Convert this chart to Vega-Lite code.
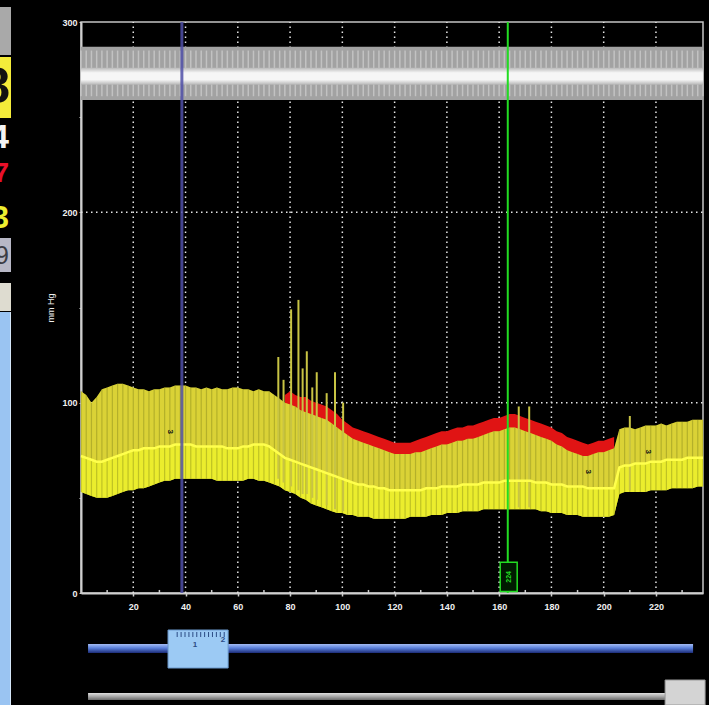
{
  "$schema": "https://vega.github.io/schema/vega-lite/v6.json",
  "background": "#000000",
  "padding": {"left": 0, "top": 7, "right": 0, "bottom": 0},
  "bounds": "flush",
  "spacing": 70,
  "config": {
    "view": {"stroke": null},
    "axis": {"labelFont": "Liberation Sans", "titleFont": "Liberation Sans"},
    "text": {"font": "Liberation Sans"}
  },
  "datasets": {
    "band": [
      {"x":0,"s":106,"m":72,"d":53},{"x":2,"s":104,"m":71,"d":52},{"x":4,"s":100,"m":70,"d":51},{"x":6,"s":103,"m":69,"d":50},
      {"x":8,"s":107,"m":69,"d":50},{"x":10,"s":108,"m":70,"d":50},{"x":12,"s":109,"m":71,"d":51},{"x":14,"s":110,"m":72,"d":52},
      {"x":16,"s":110,"m":73,"d":53},{"x":18,"s":109,"m":74,"d":54},{"x":20,"s":108,"m":75,"d":54},{"x":22,"s":107,"m":75,"d":55},
      {"x":24,"s":107,"m":76,"d":55},{"x":26,"s":106,"m":76,"d":56},{"x":28,"s":107,"m":76,"d":57},{"x":30,"s":107,"m":77,"d":58},
      {"x":32,"s":108,"m":77,"d":59},{"x":34,"s":108,"m":77,"d":59},{"x":36,"s":109,"m":78,"d":60},{"x":38,"s":109,"m":78,"d":60},
      {"x":40,"s":109,"m":78,"d":60},{"x":42,"s":108,"m":78,"d":60},{"x":44,"s":108,"m":77,"d":60},{"x":46,"s":107,"m":77,"d":60},
      {"x":48,"s":108,"m":77,"d":60},{"x":50,"s":107,"m":77,"d":60},{"x":52,"s":108,"m":77,"d":59},{"x":54,"s":107,"m":77,"d":59},
      {"x":56,"s":107,"m":76,"d":59},{"x":58,"s":108,"m":76,"d":59},{"x":60,"s":108,"m":76,"d":59},{"x":62,"s":107,"m":77,"d":59},
      {"x":64,"s":107,"m":77,"d":60},{"x":66,"s":106,"m":78,"d":60},{"x":68,"s":107,"m":78,"d":59},{"x":70,"s":106,"m":78,"d":59},
      {"x":72,"s":106,"m":77,"d":58},{"x":74,"s":104,"m":75,"d":57},{"x":76,"s":102,"m":73,"d":56},{"x":78,"s":100,"m":71,"d":54},
      {"x":80,"s":99,"m":70,"d":53},{"x":82,"s":98,"m":69,"d":52},{"x":84,"s":96,"m":68,"d":50},{"x":86,"s":95,"m":67,"d":49},
      {"x":88,"s":94,"m":66,"d":47},{"x":90,"s":93,"m":65,"d":46},{"x":92,"s":92,"m":64,"d":45},{"x":94,"s":91,"m":63,"d":44},
      {"x":96,"s":89,"m":62,"d":43},{"x":98,"s":87,"m":61,"d":42},{"x":100,"s":85,"m":60,"d":42},{"x":102,"s":83,"m":59,"d":41},
      {"x":104,"s":81,"m":58,"d":41},{"x":106,"s":80,"m":57,"d":40},{"x":108,"s":79,"m":57,"d":40},{"x":110,"s":78,"m":56,"d":40},
      {"x":112,"s":77,"m":56,"d":39},{"x":114,"s":76,"m":55,"d":39},{"x":116,"s":75,"m":55,"d":39},{"x":118,"s":74,"m":54,"d":39},
      {"x":120,"s":73,"m":54,"d":39},{"x":122,"s":73,"m":54,"d":39},{"x":124,"s":73,"m":54,"d":39},{"x":126,"s":73,"m":54,"d":40},
      {"x":128,"s":74,"m":54,"d":40},{"x":130,"s":74,"m":54,"d":40},{"x":132,"s":75,"m":55,"d":40},{"x":134,"s":76,"m":55,"d":41},
      {"x":136,"s":77,"m":55,"d":41},{"x":138,"s":78,"m":56,"d":41},{"x":140,"s":78,"m":56,"d":42},{"x":142,"s":79,"m":56,"d":42},
      {"x":144,"s":80,"m":56,"d":42},{"x":146,"s":80,"m":57,"d":43},{"x":148,"s":81,"m":57,"d":43},{"x":150,"s":81,"m":57,"d":43},
      {"x":152,"s":82,"m":57,"d":43},{"x":154,"s":83,"m":58,"d":44},{"x":156,"s":84,"m":58,"d":44},{"x":158,"s":85,"m":58,"d":44},
      {"x":160,"s":85,"m":58,"d":44},{"x":162,"s":86,"m":59,"d":44},{"x":164,"s":87,"m":59,"d":44},{"x":166,"s":87,"m":59,"d":44},
      {"x":168,"s":86,"m":59,"d":44},{"x":170,"s":85,"m":59,"d":44},{"x":172,"s":84,"m":59,"d":44},{"x":174,"s":83,"m":58,"d":44},
      {"x":176,"s":82,"m":58,"d":43},{"x":178,"s":81,"m":58,"d":43},{"x":180,"s":80,"m":57,"d":42},{"x":182,"s":78,"m":57,"d":42},
      {"x":184,"s":77,"m":57,"d":42},{"x":186,"s":75,"m":56,"d":41},{"x":188,"s":74,"m":56,"d":41},{"x":190,"s":73,"m":56,"d":41},
      {"x":192,"s":72,"m":56,"d":40},{"x":194,"s":72,"m":55,"d":40},{"x":196,"s":73,"m":55,"d":40},{"x":198,"s":74,"m":55,"d":40},
      {"x":200,"s":74,"m":55,"d":40},{"x":202,"s":75,"m":55,"d":40},{"x":204,"s":76,"m":55,"d":41},{"x":206,"s":86,"m":66,"d":52},
      {"x":208,"s":87,"m":67,"d":53},{"x":210,"s":87,"m":67,"d":53},{"x":212,"s":86,"m":68,"d":53},{"x":214,"s":87,"m":68,"d":53},
      {"x":216,"s":88,"m":68,"d":53},{"x":218,"s":88,"m":69,"d":54},{"x":220,"s":88,"m":69,"d":54},{"x":222,"s":89,"m":69,"d":54},
      {"x":224,"s":88,"m":70,"d":54},{"x":226,"s":89,"m":70,"d":55},{"x":228,"s":90,"m":70,"d":55},{"x":230,"s":90,"m":70,"d":55},
      {"x":232,"s":90,"m":71,"d":55},{"x":234,"s":91,"m":71,"d":55},{"x":236,"s":91,"m":71,"d":56},{"x":238,"s":91,"m":71,"d":56}
    ],
    "red": [
      {"x":78,"r":104},{"x":80,"r":106},{"x":82,"r":104},{"x":84,"r":103},{"x":86,"r":103},{"x":88,"r":101},{"x":90,"r":100},
      {"x":92,"r":99},{"x":94,"r":98},{"x":96,"r":96},{"x":98,"r":94},{"x":100,"r":91},{"x":102,"r":89},{"x":104,"r":87},
      {"x":106,"r":86},{"x":108,"r":85},{"x":110,"r":84},{"x":112,"r":83},{"x":114,"r":82},{"x":116,"r":81},{"x":118,"r":80},
      {"x":120,"r":79},{"x":122,"r":79},{"x":124,"r":79},{"x":126,"r":79},{"x":128,"r":80},{"x":130,"r":81},{"x":132,"r":82},
      {"x":134,"r":83},{"x":136,"r":84},{"x":138,"r":85},{"x":140,"r":85},{"x":142,"r":86},{"x":144,"r":87},{"x":146,"r":87},
      {"x":148,"r":88},{"x":150,"r":88},{"x":152,"r":89},{"x":154,"r":90},{"x":156,"r":91},{"x":158,"r":92},{"x":160,"r":92},
      {"x":162,"r":93},{"x":164,"r":94},{"x":166,"r":94},{"x":168,"r":93},{"x":170,"r":92},{"x":172,"r":91},{"x":174,"r":90},
      {"x":176,"r":89},{"x":178,"r":88},{"x":180,"r":87},{"x":182,"r":85},{"x":184,"r":84},{"x":186,"r":82},{"x":188,"r":81},
      {"x":190,"r":80},{"x":192,"r":79},{"x":194,"r":78},{"x":196,"r":79},{"x":198,"r":80},{"x":200,"r":80},{"x":202,"r":81},
      {"x":204,"r":82}
    ],
    "spikes": [
      {"x":75.5,"top":124,"bot":60},{"x":77.5,"top":112,"bot":58},{"x":80.4,"top":149,"bot":56},{"x":83.2,"top":154,"bot":54},
      {"x":84.8,"top":118,"bot":52},{"x":86.4,"top":127,"bot":52},{"x":88.5,"top":108,"bot":50},{"x":90.2,"top":116,"bot":49},
      {"x":94.0,"top":105,"bot":46},{"x":97.2,"top":116,"bot":44},{"x":100.3,"top":100,"bot":43},
      {"x":167.5,"top":98,"bot":45},{"x":171.5,"top":98,"bot":45},{"x":210,"top":93,"bot":54}
    ],
    "gridx": [{"g":20},{"g":40},{"g":60},{"g":80},{"g":100},{"g":120},{"g":140},{"g":160},{"g":180},{"g":200},{"g":220}],
    "minorx": [{"g":10},{"g":30},{"g":50},{"g":70},{"g":90},{"g":110},{"g":130},{"g":150},{"g":170},{"g":190},{"g":210},{"g":230}],
    "gridy": [{"g":100},{"g":200}]
  },
  "hconcat": [
    {
      "width": 11,
      "height": 683,
      "layer": [
        {
          "data": {"values": [{"item": "box"}]},
          "mark": {"type": "rect", "fill": "#a9a9a9"},
          "encoding": {
            "x": {"datum": 0, "type": "quantitative", "scale": {"domain": [0, 11], "nice": false, "zero": false}, "axis": null},
            "x2": {"datum": 11},
            "y": {"datum": 7, "type": "quantitative", "scale": {"domain": [22, 705], "reverse": true, "nice": false, "zero": false}, "axis": null},
            "y2": {"datum": 55}
          }
        },
        {
          "data": {"values": [{"item": "box"}]},
          "mark": {"type": "rect", "fill": "#f4ec3a"},
          "encoding": {"x": {"datum": 0, "type": "quantitative", "axis": null}, "x2": {"datum": 11}, "y": {"datum": 57, "type": "quantitative", "axis": null}, "y2": {"datum": 118}}
        },
        {
          "data": {"values": [{"v": "8"}]},
          "mark": {"type": "text", "align": "right", "baseline": "middle", "fontSize": 50, "fontWeight": "bold", "color": "#111111", "clip": true},
          "encoding": {"x": {"datum": 10, "type": "quantitative", "axis": null}, "y": {"datum": 88, "type": "quantitative", "axis": null}, "text": {"field": "v"}}
        },
        {
          "data": {"values": [{"v": "4"}]},
          "mark": {"type": "text", "align": "right", "baseline": "middle", "fontSize": 34, "fontWeight": "bold", "color": "#f4f4f4", "clip": true},
          "encoding": {"x": {"datum": 9, "type": "quantitative", "axis": null}, "y": {"datum": 138, "type": "quantitative", "axis": null}, "text": {"field": "v"}}
        },
        {
          "data": {"values": [{"v": "7"}]},
          "mark": {"type": "text", "align": "right", "baseline": "middle", "fontSize": 28, "fontWeight": "bold", "color": "#e8102a", "clip": true},
          "encoding": {"x": {"datum": 9, "type": "quantitative", "axis": null}, "y": {"datum": 174, "type": "quantitative", "axis": null}, "text": {"field": "v"}}
        },
        {
          "data": {"values": [{"v": "3"}]},
          "mark": {"type": "text", "align": "right", "baseline": "middle", "fontSize": 31, "fontWeight": "bold", "color": "#eeee30", "clip": true},
          "encoding": {"x": {"datum": 9, "type": "quantitative", "axis": null}, "y": {"datum": 219, "type": "quantitative", "axis": null}, "text": {"field": "v"}}
        },
        {
          "data": {"values": [{"item": "box"}]},
          "mark": {"type": "rect", "fill": "#b8b8c6"},
          "encoding": {"x": {"datum": 0, "type": "quantitative", "axis": null}, "x2": {"datum": 11}, "y": {"datum": 238, "type": "quantitative", "axis": null}, "y2": {"datum": 272}}
        },
        {
          "data": {"values": [{"v": "9"}]},
          "mark": {"type": "text", "align": "right", "baseline": "middle", "fontSize": 25, "color": "#3c3c44", "clip": true},
          "encoding": {"x": {"datum": 9, "type": "quantitative", "axis": null}, "y": {"datum": 256, "type": "quantitative", "axis": null}, "text": {"field": "v"}}
        },
        {
          "data": {"values": [{"item": "box"}]},
          "mark": {"type": "rect", "fill": "#dedcd0"},
          "encoding": {"x": {"datum": 0, "type": "quantitative", "axis": null}, "x2": {"datum": 11}, "y": {"datum": 283, "type": "quantitative", "axis": null}, "y2": {"datum": 311}}
        },
        {
          "data": {"values": [{"item": "box"}]},
          "mark": {"type": "rect", "fill": "#9ac4f2"},
          "encoding": {"x": {"datum": 0, "type": "quantitative", "axis": null}, "x2": {"datum": 10}, "y": {"datum": 312, "type": "quantitative", "axis": null}, "y2": {"datum": 705}}
        },
        {
          "data": {"values": [{"item": "box"}]},
          "mark": {"type": "rect", "fill": "#d4e6f8"},
          "encoding": {"x": {"datum": 10, "type": "quantitative", "axis": null}, "x2": {"datum": 11}, "y": {"datum": 312, "type": "quantitative", "axis": null}, "y2": {"datum": 705}}
        }
      ]
    },
    {
      "bounds": "flush",
      "spacing": 32,
      "vconcat": [
        {
          "width": 622,
          "height": 571,
          "view": {"stroke": "#c4c4c4", "strokeWidth": 1.5},
          "layer": [
            {
              "data": {"name": "gridx"},
              "mark": {"type": "rule", "color": "#e6e6e6", "strokeWidth": 1.5, "strokeDash": [1.5, 3.5]},
              "encoding": {
                "x": {"field": "g", "type": "quantitative", "scale": {"domain": [0, 238], "nice": false, "zero": false},
                  "axis": {"values": [20,40,60,80,100,120,140,160,180,200,220],
                    "labelOverlap": false, "grid": false, "title": "time", "titleOpacity": 0,
                    "domainColor": "#cfcfcf", "domainWidth": 2,
                    "tickColor": "#cfcfcf", "tickSize": 3, "tickWidth": 1.5,
                    "labelColor": "#f0f0f0", "labelFontSize": 9, "labelFontWeight": "bold", "labelPadding": 6}},
                "y": {"datum": 0, "type": "quantitative", "scale": {"domain": [0, 300], "nice": false, "zero": false},
                  "axis": {"values": [0,50,100,150,200,250,300],
                    "labelExpr": "datum.value % 100 === 0 ? datum.label : ''", "labelOverlap": false,
                    "grid": false, "title": "mm Hg", "titleColor": "#f0f0f0", "titleFontSize": 9, "titleFontWeight": "normal", "titlePadding": 6,
                    "domainColor": "#cfcfcf", "domainWidth": 2, "tickColor": "#cfcfcf", "tickSize": 2,
                    "labelColor": "#f0f0f0", "labelFontSize": 9, "labelFontWeight": "bold", "labelPadding": 2}},
                "y2": {"datum": 300}
              }
            },
            {
              "data": {"name": "minorx"},
              "mark": {"type": "rule", "color": "#cfcfcf", "strokeWidth": 1.5},
              "encoding": {
                "x": {"field": "g", "type": "quantitative"},
                "y": {"datum": 0, "type": "quantitative"},
                "y2": {"datum": 1.6}
              }
            },
            {
              "data": {"name": "gridy"},
              "mark": {"type": "rule", "color": "#e6e6e6", "strokeWidth": 1.5, "strokeDash": [1.5, 3.5]},
              "encoding": {
                "y": {"field": "g", "type": "quantitative"},
                "x": {"datum": 0, "type": "quantitative"},
                "x2": {"datum": 238}
              }
            },
            {
              "data": {"name": "band"},
              "mark": {"type": "area", "color": "#a2a2a2"},
              "encoding": {
                "x": {"field": "x", "type": "quantitative"},
                "y": {"datum": 287, "type": "quantitative"},
                "y2": {"datum": 259}
              }
            },
            {
              "data": {"name": "band"},
              "mark": {"type": "rule", "color": "#d0d0d0", "opacity": 0.7, "strokeWidth": 1.5},
              "encoding": {
                "x": {"field": "x", "type": "quantitative"},
                "y": {"datum": 261, "type": "quantitative"},
                "y2": {"datum": 285}
              }
            },
            {
              "data": {"name": "band"},
              "mark": {"type": "area", "color": {"gradient": "linear", "x1": 0, "y1": 0, "x2": 0, "y2": 1, "stops": [{"offset": 0, "color": "#b8b8b8"}, {"offset": 0.3, "color": "#f6f6f6"}, {"offset": 0.7, "color": "#f6f6f6"}, {"offset": 1, "color": "#b4b4b4"}]}},
              "encoding": {
                "x": {"field": "x", "type": "quantitative"},
                "y": {"datum": 276, "type": "quantitative"},
                "y2": {"datum": 267}
              }
            },
            {
              "data": {"name": "red"},
              "mark": {"type": "area", "color": "#e01414"},
              "encoding": {
                "x": {"field": "x", "type": "quantitative"},
                "y": {"field": "r", "type": "quantitative"},
                "y2": {"datum": 60}
              }
            },
            {
              "data": {"name": "band"},
              "mark": {"type": "area", "color": "#d4dc38"},
              "encoding": {
                "x": {"field": "x", "type": "quantitative"},
                "y": {"field": "d", "type": "quantitative"},
                "y2": {"field": "s"}
              }
            },
            {
              "data": {"name": "band"},
              "mark": {"type": "area", "color": "#eef02c", "opacity": 0.85},
              "encoding": {
                "x": {"field": "x", "type": "quantitative"},
                "y": {"field": "d", "type": "quantitative"},
                "y2": {"field": "m"}
              }
            },
            {
              "data": {"name": "band"},
              "mark": {"type": "area", "color": "#f0b030", "opacity": 0.22},
              "encoding": {
                "x": {"field": "x", "type": "quantitative"},
                "y": {"field": "m", "type": "quantitative"},
                "y2": {"field": "s"}
              }
            },
            {
              "data": {"name": "band"},
              "mark": {"type": "rule", "color": "#6e7414", "opacity": 0.35, "strokeWidth": 1.2},
              "encoding": {
                "x": {"field": "x", "type": "quantitative"},
                "y": {"field": "d", "type": "quantitative"},
                "y2": {"field": "s"}
              }
            },
            {
              "data": {"name": "spikes"},
              "mark": {"type": "rule", "color": "#c8c444", "strokeWidth": 2},
              "encoding": {
                "x": {"field": "x", "type": "quantitative"},
                "y": {"field": "top", "type": "quantitative"},
                "y2": {"field": "bot"}
              }
            },
            {
              "data": {"name": "band"},
              "mark": {"type": "line", "color": "#ffff4c", "strokeWidth": 2.5},
              "encoding": {
                "x": {"field": "x", "type": "quantitative"},
                "y": {"field": "m", "type": "quantitative"}
              }
            },
            {
              "data": {"values": [{"t": 38.6}]},
              "mark": {"type": "rule", "color": "#5050a8", "strokeWidth": 3, "opacity": 0.85},
              "encoding": {
                "x": {"field": "t", "type": "quantitative"},
                "y": {"datum": 0, "type": "quantitative"},
                "y2": {"datum": 300}
              }
            },
            {
              "data": {"values": [{"t": 163.3}]},
              "mark": {"type": "rule", "color": "#22dd22", "strokeWidth": 2},
              "encoding": {
                "x": {"field": "t", "type": "quantitative"},
                "y": {"datum": 0, "type": "quantitative"},
                "y2": {"datum": 300}
              }
            },
            {
              "data": {"values": [{"a": 160.4, "b": 166.9}]},
              "mark": {"type": "rect", "fill": "#001a00", "stroke": "#22dd22", "strokeWidth": 1.5},
              "encoding": {
                "x": {"field": "a", "type": "quantitative"},
                "x2": {"field": "b"},
                "y": {"datum": 0.8, "type": "quantitative"},
                "y2": {"datum": 16.2}
              }
            },
            {
              "data": {"values": [{"t": 163.6, "v": 8.5, "label": "224"}]},
              "mark": {"type": "text", "color": "#22dd22", "fontSize": 7, "fontWeight": "bold", "angle": 270, "align": "center", "baseline": "middle"},
              "encoding": {
                "x": {"field": "t", "type": "quantitative"},
                "y": {"field": "v", "type": "quantitative"},
                "text": {"field": "label"}
              }
            },
            {
              "data": {"values": [{"t": 34.2, "v": 84.7, "label": "3"}, {"t": 194, "v": 63.7, "label": "3"}, {"t": 217, "v": 74.2, "label": "3"}]},
              "mark": {"type": "text", "color": "#141414", "fontSize": 8, "fontWeight": "bold", "angle": 90, "align": "center", "baseline": "middle"},
              "encoding": {
                "x": {"field": "t", "type": "quantitative"},
                "y": {"field": "v", "type": "quantitative"},
                "text": {"field": "label"}
              }
            }
          ]
        },
        {
          "width": 622,
          "height": 80,
          "layer": [
            {
              "data": {"values": [{"start": 2.7, "end": 234.2}]},
              "mark": {"type": "rect", "fill": {"gradient": "linear", "x1": 0, "y1": 0, "x2": 0, "y2": 1, "stops": [{"offset": 0, "color": "#a4bcf4"}, {"offset": 0.45, "color": "#5a80da"}, {"offset": 1, "color": "#1c2c78"}]}},
              "encoding": {
                "x": {"field": "start", "type": "quantitative", "scale": {"domain": [0, 238], "nice": false, "zero": false}, "axis": null},
                "x2": {"field": "end"},
                "y": {"datum": 19, "type": "quantitative", "scale": {"domain": [0, 80], "reverse": true, "nice": false, "zero": false}, "axis": null},
                "y2": {"datum": 28}
              }
            },
            {
              "data": {"values": [{"start": 33.3, "end": 56.3}]},
              "mark": {"type": "rect", "fill": "#9ccaf4", "stroke": "#6a98cc", "strokeWidth": 1},
              "encoding": {
                "x": {"field": "start", "type": "quantitative", "axis": null},
                "x2": {"field": "end"},
                "y": {"datum": 5, "type": "quantitative", "axis": null},
                "y2": {"datum": 43}
              }
            },
            {
              "data": {"values": [{"t": 36.8}, {"t": 38.3}, {"t": 39.8}, {"t": 41.3}, {"t": 42.8}, {"t": 44.3}, {"t": 45.8}, {"t": 47.3}, {"t": 48.8}, {"t": 50.3}, {"t": 51.8}, {"t": 53.3}, {"t": 54.8}]},
              "mark": {"type": "rule", "color": "#2c4c84", "strokeWidth": 1},
              "encoding": {
                "x": {"field": "t", "type": "quantitative", "axis": null},
                "y": {"datum": 7, "type": "quantitative", "axis": null},
                "y2": {"datum": 12}
              }
            },
            {
              "data": {"values": [{"t": 43.6, "v": 20, "label": "1"}, {"t": 54.3, "v": 15, "label": "2"}]},
              "mark": {"type": "text", "color": "#2c4c84", "fontSize": 8, "fontWeight": "bold", "align": "center", "baseline": "middle"},
              "encoding": {
                "x": {"field": "t", "type": "quantitative", "axis": null},
                "y": {"field": "v", "type": "quantitative", "axis": null},
                "text": {"field": "label"}
              }
            },
            {
              "data": {"values": [{"start": 2.7, "end": 236.9}]},
              "mark": {"type": "rect", "fill": {"gradient": "linear", "x1": 0, "y1": 0, "x2": 0, "y2": 1, "stops": [{"offset": 0, "color": "#e0e0e0"}, {"offset": 0.5, "color": "#a8a8a8"}, {"offset": 1, "color": "#6a6a6a"}]}},
              "encoding": {
                "x": {"field": "start", "type": "quantitative", "axis": null},
                "x2": {"field": "end"},
                "y": {"datum": 68, "type": "quantitative", "axis": null},
                "y2": {"datum": 75}
              }
            },
            {
              "data": {"values": [{"start": 223.5, "end": 238.8}]},
              "mark": {"type": "rect", "fill": "#d4d4d4", "stroke": "#9a9a9a", "strokeWidth": 1},
              "encoding": {
                "x": {"field": "start", "type": "quantitative", "axis": null},
                "x2": {"field": "end"},
                "y": {"datum": 55, "type": "quantitative", "axis": null},
                "y2": {"datum": 80}
              }
            }
          ]
        }
      ]
    }
  ]
}
